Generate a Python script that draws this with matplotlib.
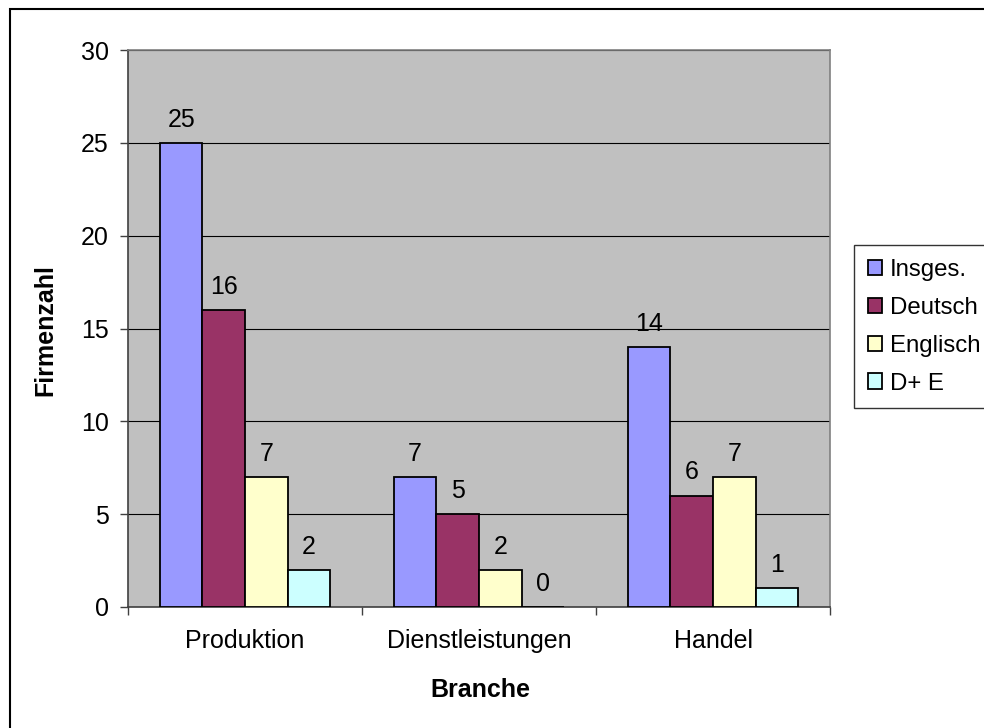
import numpy as np
import matplotlib
matplotlib.use("Agg")
import matplotlib.pyplot as plt
from matplotlib.patches import Rectangle

plt.rcParams["font.family"] = ["Liberation Sans", "DejaVu Sans"]

# data
categories = ["Produktion", "Dienstleistungen", "Handel"]
series_names = ["Insges.", "Deutsch", "Englisch", "D+ E"]
insges = [25, 7, 14]
deutsch = [16, 5, 6]
englisch = [7, 2, 7]
d_plus_e = [2, 0, 1]
colors = ["#9999FF", "#993366", "#FFFFCC", "#CCFFFF"]

values = [insges, deutsch, englisch, d_plus_e]

fig = plt.figure(figsize=(9.84, 7.28), dpi=100)
ax = fig.add_axes([128 / 984, 1 - 607 / 728, 702 / 984, 557 / 728])
ax.set_facecolor("#C0C0C0")

x = np.arange(len(categories))
w = 1 / 5.5
for k, (vals, name, col) in enumerate(zip(values, series_names, colors)):
    pos = x + (k - 1.5) * w
    ax.bar(pos, vals, width=w, color=col, edgecolor="black", linewidth=1.3,
           label=name, zorder=3)
    for px, v in zip(pos, vals):
        ax.annotate(str(v), (px, v), xytext=(0, 8), textcoords="offset points",
                    ha="center", va="bottom", fontsize=18)

ax.set_xlim(-0.5, 2.5)
ax.set_ylim(0, 30)
ax.set_yticks(range(0, 31, 5))
ax.yaxis.grid(True, color="black", linewidth=0.8, zorder=1)
ax.set_axisbelow(True)

# category boundary ticks, labels on centers
ax.set_xticks([-0.5, 0.5, 1.5, 2.5])
ax.set_xticklabels([])
ax.set_xticks(x, minor=True)
ax.set_xticklabels(categories, minor=True, fontsize=18)
ax.tick_params(axis="x", which="minor", length=0, pad=16)
ax.tick_params(axis="x", which="major", length=6, width=1, color="#404040",
               direction="out")
ax.tick_params(axis="y", length=6, width=1, color="#404040", direction="out",
               labelsize=18, pad=8)

for side in ["top", "right"]:
    ax.spines[side].set_color("#808080")
    ax.spines[side].set_linewidth(1.2)
for side in ["left", "bottom"]:
    ax.spines[side].set_color("#404040")
    ax.spines[side].set_linewidth(1.2)

fig.text(45 / 984, 1 - 330 / 728, "Firmenzahl", rotation=90, ha="center",
         va="center", fontsize=18, fontweight="bold")
fig.text(480 / 984, 1 - 690 / 728, "Branche", ha="center", va="center",
         fontsize=18, fontweight="bold")

leg = fig.legend(loc="upper left", bbox_to_anchor=(854 / 984, 1 - 245 / 728),
                 fontsize=17.3, frameon=True, fancybox=False, edgecolor="black",
                 handlelength=0.6, handleheight=0.6, handletextpad=0.3,
                 labelspacing=0.66, borderpad=0.58, borderaxespad=0)
leg.get_frame().set_linewidth(1.0)

# outer chart border (runs off the right and bottom edge)
fig.patches.append(Rectangle((10 / 984, -0.2), 1.5, 1.2 - 9 / 728,
                             transform=fig.transFigure, fill=False,
                             edgecolor="black", linewidth=1.5))

fig.savefig("out.png", dpi=100)
